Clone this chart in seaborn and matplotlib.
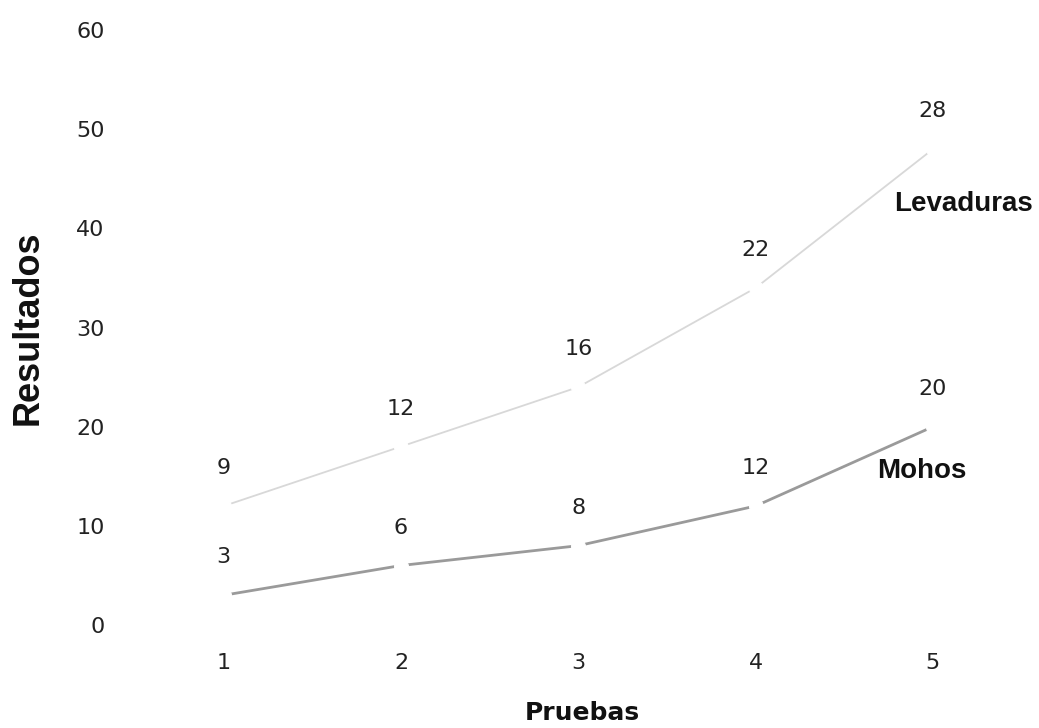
import pandas as pd
import numpy as np
import matplotlib.pyplot as plt
import seaborn as sns

# Values (stacked lines, labels show each series' own value)
pruebas = [1, 2, 3, 4, 5]
mohos = [3, 6, 8, 12, 20]
levaduras = [9, 12, 16, 22, 28]

df = pd.DataFrame({'Pruebas': pruebas, 'Mohos': mohos, 'Levaduras': levaduras})
df['Levaduras_acum'] = df['Mohos'] + df['Levaduras']

sns.set_style('white')
plt.rcParams['font.family'] = ['DejaVu Sans']

fig = plt.figure(figsize=(10.39, 7.28), dpi=100)
ax = fig.add_axes([0.13, 0.1415, 0.86, 0.817])

sns.lineplot(x='Pruebas', y='Levaduras_acum', data=df, ax=ax, color='#d8d8d8',
             linewidth=1.3, marker='o', markersize=10, markerfacecolor='white',
             markeredgecolor='white')
sns.lineplot(x='Pruebas', y='Mohos', data=df, ax=ax, color='#9a9a9a',
             linewidth=2, marker='o', markersize=10, markerfacecolor='white',
             markeredgecolor='white')

# value labels
for x, y, v in zip(df['Pruebas'], df['Mohos'], df['Mohos']):
    ax.annotate(str(v), (x, y), xytext=(0, 20), textcoords='offset points',
                ha='center', va='bottom', fontsize=16, color='#222222')
for x, y, v in zip(df['Pruebas'], df['Levaduras_acum'], df['Levaduras']):
    ax.annotate(str(v), (x, y), xytext=(0, 20), textcoords='offset points',
                ha='center', va='bottom', fontsize=16, color='#222222')

# series names
ax.text(5.17, 42.5, 'Levaduras', fontsize=20, fontweight='bold',
        family='Liberation Sans', ha='center', va='center', color='#111111')
ax.text(4.94, 15.5, 'Mohos', fontsize=20, fontweight='bold',
        family='Liberation Sans', ha='center', va='center', color='#111111')

ax.set_xlim(0.5, 5.54)
ax.set_ylim(0, 60)
ax.set_xticks(pruebas)
ax.set_yticks([0, 10, 20, 30, 40, 50, 60])
ax.tick_params(axis='both', length=0, labelsize=16, colors='#222222')
ax.tick_params(axis='x', pad=20)
ax.tick_params(axis='y', pad=22)
for s in ax.spines.values():
    s.set_visible(False)

ax.set_xlabel('Pruebas', fontsize=18, fontweight='bold', labelpad=20,
              family='DejaVu Sans', color='#111111')
ax.set_ylabel('Resultados', fontsize=26, fontweight='bold', labelpad=22,
              family='Liberation Sans', color='#111111')

plt.savefig('out.png', dpi=100)
